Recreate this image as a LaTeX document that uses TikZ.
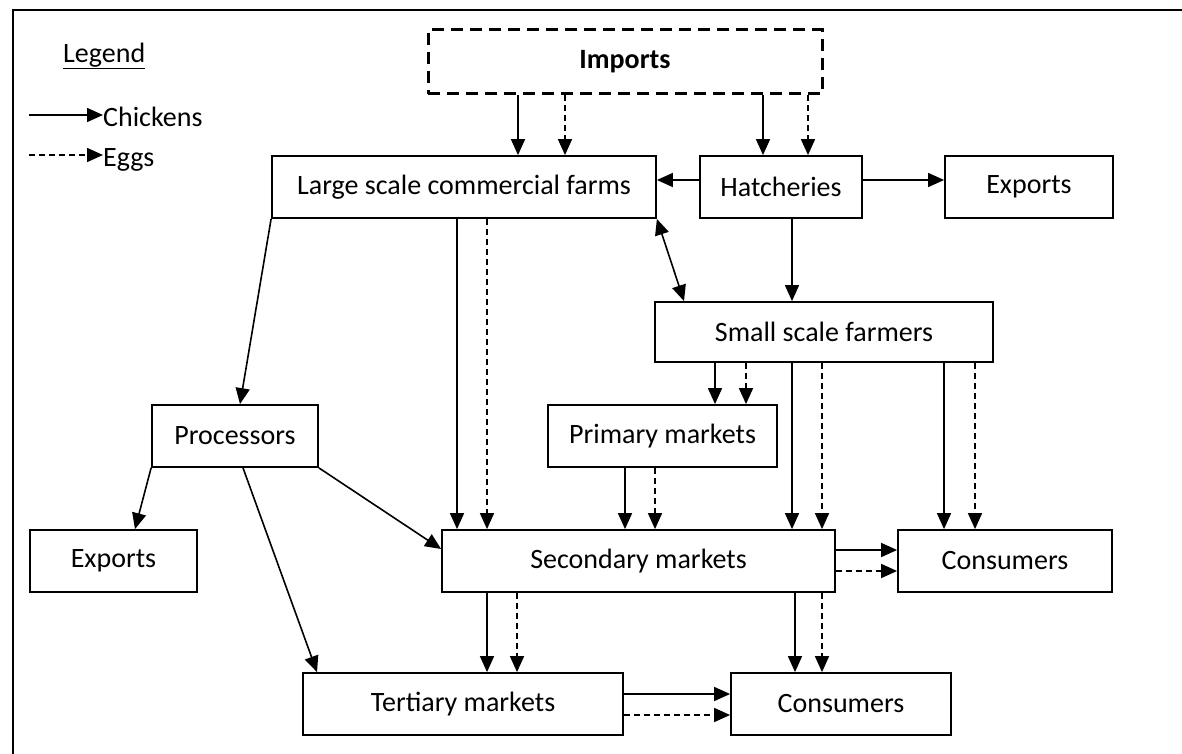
\documentclass[tikz,border=0pt]{standalone}
\usepackage{fontspec}
\setmainfont{Carlito}
\usetikzlibrary{arrows.meta}
\begin{document}
\begin{tikzpicture}[x=1pt,y=-1pt,
 box/.style={draw, line width=1.8pt, rectangle, inner sep=0pt, font=\fontsize{28}{33}\selectfont},
 lab/.style={inner sep=0pt, font=\fontsize{28}{33}\selectfont},
 arr/.style={line width=1.6pt, -{Triangle[length=16pt,width=14pt]}},
 darr/.style={arr, dash pattern=on 6pt off 4pt},
 dbl/.style={line width=1.6pt, {Triangle[length=16pt,width=14pt]}-{Triangle[length=16pt,width=14pt]}},
]
\useasboundingbox (0,0) rectangle (1182,754);
\draw[line width=2.5pt] (13,754) -- (13,10) -- (1182,10);

% legend
\node[lab, anchor=west] (leg) at (63,56) {\underline{Legend}};
\coordinate (c1) at (29,115);
\coordinate (e1) at (29,155);
\node[lab, anchor=west] (chk) at (103,117) {Chickens};
\node[lab, anchor=west] (egg) at (103,160) {Eggs};
\draw[arr] (c1) -- (chk.west |- c1);
\draw[darr] (e1) -- (egg.west |- e1);

% nodes
\node[box, line width=3pt, dash pattern=on 12pt off 7pt, minimum width=394pt, minimum height=64pt] (imp) at (625,62) {\textbf{Imports}};
\node[box, minimum width=384pt, minimum height=62pt] (large) at (464,187) {Large scale commercial farms};
\node[box, minimum width=162pt, minimum height=62pt] (hatch) at (781,187) {Hatcheries};
\node[box, minimum width=168pt, minimum height=62pt] (expT) at (1029,187) {Exports};
\node[box, minimum width=338pt, minimum height=60pt] (small) at (824,332) {Small scale farmers};
\node[box, minimum width=166pt, minimum height=62pt] (proc) at (235,436) {Processors};
\node[box, minimum width=229pt, minimum height=62pt] (prim) at (662.5,436) {Primary markets};
\node[box, minimum width=167pt, minimum height=62pt] (expL) at (113.5,561) {Exports};
\node[box, minimum width=393pt, minimum height=62pt] (sec) at (638.5,561) {Secondary markets};
\node[box, minimum width=214pt, minimum height=62pt] (consR) at (1005,561) {Consumers};
\node[box, minimum width=320pt, minimum height=62pt] (tert) at (463,704) {Tertiary markets};
\node[box, minimum width=220pt, minimum height=62pt] (consB) at (841,704) {Consumers};

% imports
\draw[arr] (imp.south -| 518,0) -- (large.north -| 518,0);
\draw[darr] (imp.south -| 565,0) -- (large.north -| 565,0);
\draw[arr] (imp.south -| 763,0) -- (hatch.north -| 763,0);
\draw[darr] (imp.south -| 808,0) -- (hatch.north -| 808,0);
% hatcheries
\draw[arr] (hatch.west |- 0,180) -- (large.east |- 0,180);
\draw[arr] (hatch.east |- 0,180) -- (expT.west |- 0,180);
\draw[arr] (hatch.south -| 792,0) -- (small.north -| 792,0);
% large
\draw[dbl] (large.south east) -- (small.north west -| 684,0);
\draw[arr] (large.south west) -- (proc.north -| 240,0);
\draw[arr] (large.south -| 457,0) -- (sec.north -| 457,0);
\draw[darr] (large.south -| 487,0) -- (sec.north -| 487,0);
% small
\draw[arr] (small.south -| 715,0) -- (prim.north -| 715,0);
\draw[darr] (small.south -| 746,0) -- (prim.north -| 746,0);
\draw[arr] (small.south -| 792,0) -- (sec.north -| 792,0);
\draw[darr] (small.south -| 822,0) -- (sec.north -| 822,0);
\draw[arr] (small.south -| 944,0) -- (consR.north -| 944,0);
\draw[darr] (small.south -| 975,0) -- (consR.north -| 975,0);
% primary
\draw[arr] (prim.south -| 625,0) -- (sec.north -| 625,0);
\draw[darr] (prim.south -| 655,0) -- (sec.north -| 655,0);
% processors
\draw[arr] (proc.south west) -- (expL.north -| 135,0);
\draw[arr] (proc.south -| 243,0) -- (tert.north -| 317,0);
\draw[arr] (proc.south east) -- (sec.west |- 0,549);
% secondary
\draw[arr] (sec.east |- 0,550) -- (consR.west |- 0,550);
\draw[darr] (sec.east |- 0,571) -- (consR.west |- 0,571);
\draw[arr] (sec.south -| 487,0) -- (tert.north -| 487,0);
\draw[darr] (sec.south -| 517,0) -- (tert.north -| 517,0);
\draw[arr] (sec.south -| 795,0) -- (consB.north -| 795,0);
\draw[darr] (sec.south -| 822,0) -- (consB.north -| 822,0);
% tertiary
\draw[arr] (tert.east |- 0,694) -- (consB.west |- 0,694);
\draw[darr] (tert.east |- 0,715) -- (consB.west |- 0,715);
\end{tikzpicture}
\end{document}
